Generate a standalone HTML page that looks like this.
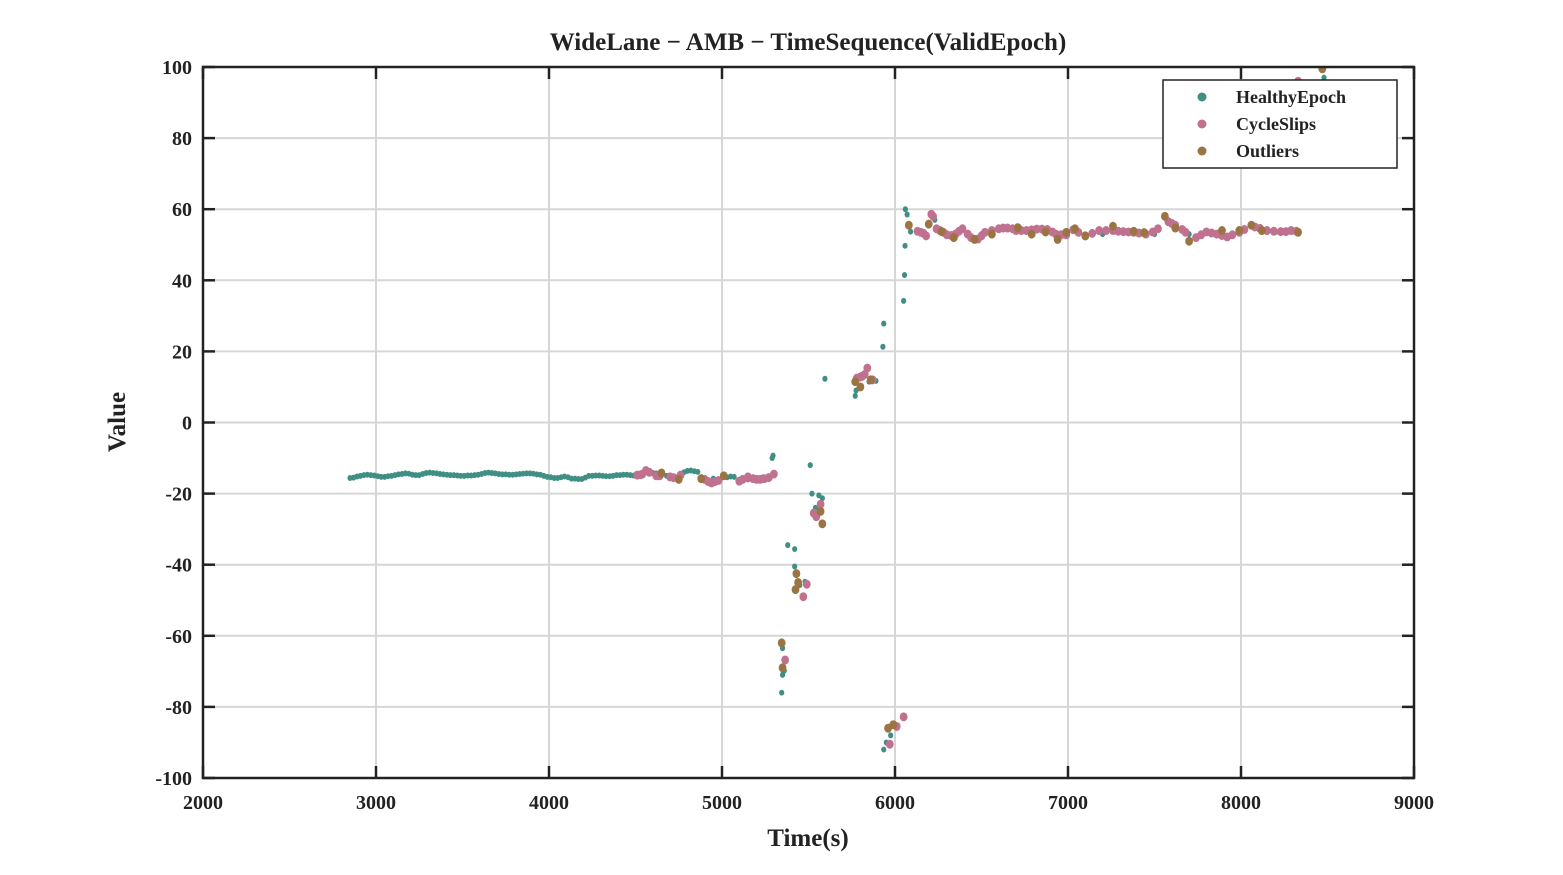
<!DOCTYPE html>
<html><head><meta charset="utf-8"><style>
body{margin:0;background:#fff}
svg{display:block;font-family:"Liberation Serif",serif;font-weight:bold}
</style></head><body>
<svg id="c" width="1563" height="875"></svg>
<script>
const xTicks=[2000,3000,4000,5000,6000,7000,8000,9000];
const yTicks=[-100,-80,-60,-40,-20,0,20,40,60,80,100];
const healthyT=[2850,2870,2890,2910,2930,2950,2970,2990,3010,3030,3050,3070,3090,3110,3130,3150,3170,3190,3210,3230,3250,3270,3290,3310,3330,3350,3370,3390,3410,3430,3450,3470,3490,3510,3530,3550,3570,3590,3610,3630,3650,3670,3690,3710,3730,3750,3770,3790,3810,3830,3850,3870,3890,3910,3930,3950,3970,3990,4010,4030,4050,4070,4090,4110,4130,4150,4170,4190,4210,4230,4250,4270,4290,4310,4330,4350,4370,4390,4410,4430,4450,4470,4490,4600,4620,4680,4700,4780,4800,4820,4840,4860,4950,5030,5050,5070,5150,5250,5290,5295,5350,5355,5360,5345,5350,5380,5420,5420,5450,5480,5510,5520,5560,5580,5540,5595,5770,5775,5850,5890,5930,5935,6050,6055,6058,6060,6070,6090,6230,6500,6900,7200,7500,7700,8000,8200,8300,8480,5935,5950,5975];
const healthyV=[-15.6,-15.5,-15.2,-15.0,-14.8,-14.7,-14.8,-14.9,-15.1,-15.3,-15.3,-15.1,-15.0,-14.8,-14.6,-14.5,-14.3,-14.4,-14.7,-14.8,-14.8,-14.5,-14.2,-14.1,-14.2,-14.3,-14.5,-14.6,-14.7,-14.8,-14.8,-14.9,-15.0,-15.0,-14.9,-14.9,-14.8,-14.7,-14.5,-14.2,-14.1,-14.2,-14.3,-14.5,-14.6,-14.6,-14.7,-14.7,-14.6,-14.5,-14.4,-14.3,-14.3,-14.4,-14.6,-14.7,-15.0,-15.3,-15.4,-15.6,-15.6,-15.4,-15.2,-15.4,-15.8,-15.8,-15.9,-15.9,-15.5,-15.0,-15.0,-14.9,-14.9,-15.0,-15.1,-15.1,-15.0,-14.8,-14.8,-14.7,-14.7,-14.8,-14.9,-14.2,-14.3,-15.0,-15.2,-14.0,-13.6,-13.5,-13.7,-13.9,-15.8,-15.4,-15.2,-15.3,-16.0,-16.1,-10.0,-9.3,-71,-70,-69.8,-76,-63.5,-34.5,-35.6,-40.5,-45.7,-44.8,-12,-20,-20.5,-21.3,-24,12.3,7.5,9,11.5,11.7,21.3,27.8,34.2,41.5,49.7,60,58.5,53.7,57,53,53.5,53,53,53,54,53.6,101,97,-92,-90,-88];
const slipT=[4510,4530,4540,4560,4580,4620,4640,4700,4720,4760,4900,4920,4940,4960,4980,5100,5120,5150,5180,5200,5220,5240,5270,5300,5365,5470,5490,5530,5545,5570,5780,5800,5810,5825,5840,5870,5970,6010,6050,6210,6220,6130,6150,6165,6180,6240,6260,6280,6300,6325,6350,6370,6390,6420,6440,6480,6500,6520,6560,6600,6625,6650,6680,6700,6730,6760,6790,6820,6850,6880,6910,6930,6960,6990,7030,7060,7100,7140,7180,7220,7260,7290,7320,7350,7380,7410,7450,7490,7520,7580,7600,7620,7660,7680,7740,7770,7800,7830,7860,7890,7920,7950,7990,8020,8080,8110,8150,8190,8230,8260,8290,8320,8330];
const slipV=[-14.8,-14.7,-14.5,-13.5,-14.0,-15.0,-15.0,-15.3,-15.5,-14.8,-16.0,-16.6,-17.0,-16.6,-16.3,-16.5,-16.0,-15.3,-15.8,-16.0,-16.0,-15.8,-15.5,-14.5,-66.8,-49,-45.5,-25.5,-26.5,-23,12.5,12.8,13,13.5,15.3,12,-90.5,-85.5,-82.8,58.6,58.0,53.8,53.5,53.2,52.5,54.5,54,53.5,52.8,52.6,53,53.8,54.5,53,52,51.6,52.5,53.5,54,54.5,54.7,54.7,54.5,54,54,54,54.2,54.4,54.4,54.3,53.6,53,52.8,52.8,54.2,53.5,52.5,53.2,54,54,54,53.8,53.7,53.6,53.5,53.3,53,53.6,54.5,56.5,56,55.5,54.3,53.5,52,52.8,53.6,53.3,53,52.6,52.2,52.8,53.5,54.3,55,54.6,54,53.8,53.7,53.7,54,53.8,96];
const outT=[4650,4750,4880,5010,5345,5350,5430,5425,5440,5580,5570,5770,5800,5860,5960,5990,6080,6195,6270,6340,6460,6560,6710,6790,6870,6940,6990,7040,7100,7260,7380,7440,7560,7620,7700,7890,7990,8060,8120,8330,8470];
const outV=[-14.2,-16.0,-15.8,-15.0,-62,-69,-42.5,-47,-45,-28.5,-25,11.5,10,12,-86,-85,55.5,55.8,53.7,52,51.5,53,54.8,53,53.6,51.5,53.5,54.5,52.5,55.2,53.8,53.4,58,54.7,51,54,54,55.5,54,53.5,99.5];

const L=203,R=1414,T=67,B=778;
const xs=t=>L+(t-2000)/7000*(R-L);
const ys=v=>B-(v+100)/200*(B-T);
const NS='http://www.w3.org/2000/svg';
const svg=document.getElementById('c');
function el(tag,attrs,parent){const e=document.createElementNS(NS,tag);for(const k in attrs)e.setAttribute(k,attrs[k]);(parent||svg).appendChild(e);return e;}
const defs=el('defs',{});
const cp=el('clipPath',{id:'clip'},defs);el('rect',{x:L,y:T,width:R-L,height:B-T},cp);
const grid=el('g',{});


xTicks.forEach(t=>{
  el('line',{x1:xs(t),x2:xs(t),y1:T,y2:B,stroke:'#d6d6d6','stroke-width':2},grid);
  const tx=el('text',{x:xs(t),y:809,'text-anchor':'middle','font-size':20,fill:'#222'});
  tx.textContent=t;
  
  
});
yTicks.forEach(v=>{
  el('line',{x1:L,x2:R,y1:ys(v),y2:ys(v)},grid).setAttribute('style','stroke:#d6d6d6;stroke-width:2');
  const tx=el('text',{x:192,y:ys(v)+7,'text-anchor':'end','font-size':20,fill:'#222'});
  tx.textContent=v;
  
  
});
const pts=el('g',{'clip-path':'url(#clip)'});
function series(Ts,Vs,color,r,name){
  const g=el('g',{fill:color},pts);
  
  
  Ts.forEach((t,i)=>{
    const c=el('ellipse',{cx:xs(Ts[i]),cy:ys(Vs[i]),rx:r,ry:r*1.15},g);
    
    
  });
}
series(healthyT,healthyV,'#3f8f84',2.6,'healthy-epoch-series');
series(slipT,slipV,'#c0718f',3.9,'cycle-slips-series');
series(outT,outV,'#9b7443',3.9,'outliers-series');
const ax=el('g',{stroke:'#222','stroke-width':2.5,fill:'none'});


el('rect',{x:L,y:T,width:R-L,height:B-T},ax);
xTicks.forEach(t=>{el('line',{x1:xs(t),x2:xs(t),y1:B,y2:B-12},ax);el('line',{x1:xs(t),x2:xs(t),y1:T,y2:T+12},ax);});
yTicks.forEach(v=>{el('line',{x1:L,x2:L+12,y1:ys(v),y2:ys(v)},ax);el('line',{x1:R,x2:R-12,y1:ys(v),y2:ys(v)},ax);});
</script>
<svg width="1563" height="875" style="position:absolute;left:0;top:0">
<text x="808" y="50" text-anchor="middle" font-size="25" fill="#222">WideLane − AMB − TimeSequence(ValidEpoch)</text>
<text x="808" y="846" text-anchor="middle" font-size="25" fill="#222">Time(s)</text>
<text transform="translate(125,422) rotate(-90)" text-anchor="middle" font-size="25" fill="#222">Value</text>
<g>
<rect x="1163" y="80" width="234" height="88" fill="#fff" stroke="#222" stroke-width="1.5"/>
<circle cx="1202" cy="97" r="4.5" fill="#3f8f84"/><text x="1236" y="103" font-size="18" fill="#222">HealthyEpoch</text>
<circle cx="1202" cy="124" r="4.5" fill="#c0718f"/><text x="1236" y="130" font-size="18" fill="#222">CycleSlips</text>
<circle cx="1202" cy="151" r="4.5" fill="#9b7443"/><text x="1236" y="157" font-size="18" fill="#222">Outliers</text>
</g>
</svg>
</body></html>
